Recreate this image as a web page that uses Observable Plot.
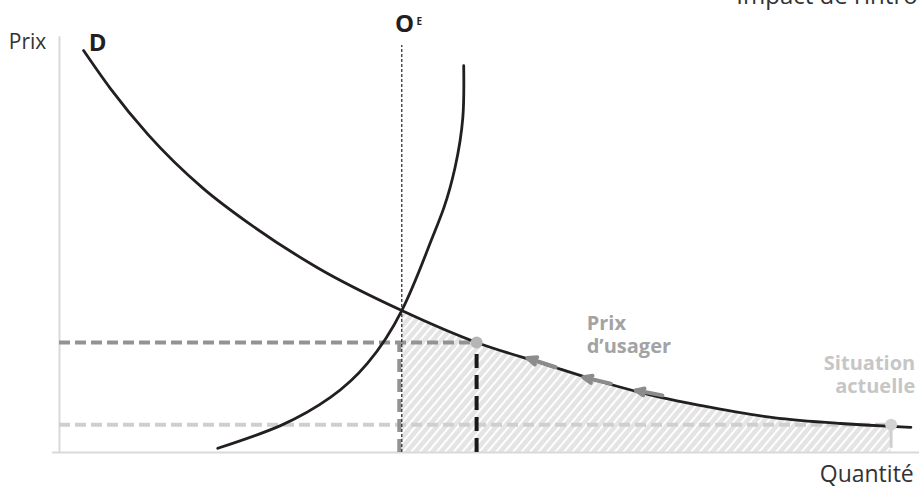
<!DOCTYPE html>
<html>
<head>
<meta charset="utf-8">
<script src="https://cdn.jsdelivr.net/npm/d3@7"></script>
<script src="https://cdn.jsdelivr.net/npm/@observablehq/plot@0.6"></script>
<style>
  html, body { margin: 0; padding: 0; background: #fff; overflow: hidden; }
  #chart { width: 919px; height: 489px; }
</style>
</head>
<body>
<div id="chart"></div>
<script>
// Demand curve D (quantity, price)
const demandQ = [2.8, 5.9, 10.3, 16.7, 22.2, 30.0, 39.8, 48.5, 56.5, 62.9, 69.9, 74.5, 83.0, 90.8, 96.7, 99.0];
const demandP = [95.7, 86.7, 75.7, 62.9, 54.3, 44.0, 33.8, 26.2, 21.0, 16.9, 13.1, 11.2, 8.3, 6.9, 6.2, 6.0];
// Supply curve O_E
const supplyQ = [18.4, 25.7, 31.5, 35.8, 39.8, 42.9, 44.7, 46.0, 46.9, 47.0];
const supplyP = [1.0, 6.4, 13.1, 21.2, 33.8, 48.8, 58.3, 67.9, 79.8, 92.1];
// Key points
const equilibrium = {q: 39.8, p: 33.8, top: 96.9};
const userPrice = {q: 48.5, p: 26.2};
const current = {q: 96.7, p: 6.6};
// Arrows along the demand curve (tail -> tip)
const arrowTailQ = [57.7, 64.1, 70.1];
const arrowTailP = [20.3, 16.4, 13.6];
const arrowTipQ = [54.4, 60.9, 67.0];
const arrowTipP = [22.5, 17.9, 14.8];
// Texts
const titleText = "Impact de l’introduction d’un prix d’usager";
const yLabel = "Prix";
const xLabel = "Quantité";
const demandLabel = "D";
const supplyLabel = "O";
const supplySub = "E";
const userLabel = "Prix\nd’usager";
const currentLabel = "Situation\nactuelle";

const demand = demandQ.map((q, i) => ({q, p: demandP[i]}));
const supply = supplyQ.map((q, i) => ({q, p: supplyP[i]}));
const hatched = demand.filter(d => d.q >= equilibrium.q && d.q <= current.q);
const arrows = arrowTailQ.map((q, i) => ({x1: q, y1: arrowTailP[i], x2: arrowTipQ[i], y2: arrowTipP[i]}));

const font = "'Open Sans', 'Noto Sans', sans-serif";

const plot = Plot.plot({
  width: 919,
  height: 489,
  marginLeft: 59,
  marginRight: 0,
  marginTop: 32,
  marginBottom: 37,
  x: {domain: [0, 100], axis: null},
  y: {domain: [0, 100], axis: null},
  style: {fontFamily: font, background: "#fff"},
  marks: [
    // hatched area
    Plot.areaY(hatched, {x: "q", y: "p", y1: 0, fill: "url(#hatch)", curve: "monotone-x"}),
    // axes
    Plot.ruleX([0], {y1: 0, y2: 99, stroke: "#d9d9d9", strokeWidth: 2}),
    Plot.ruleY([0], {x1: -0.8, x2: 100, stroke: "#d9d9d9", strokeWidth: 2}),
    // dashed guides
    Plot.ruleY([current.p], {x1: 0, x2: current.q, stroke: "#cfcfcf", strokeWidth: 4, strokeDasharray: "11,5"}),
    Plot.ruleY([userPrice.p], {x1: 0, x2: userPrice.q, stroke: "#939393", strokeWidth: 4, strokeDasharray: "11,5"}),
    Plot.ruleX([equilibrium.q], {y1: 0, y2: userPrice.p, dx: -2.5, stroke: "#939393", strokeWidth: 4, strokeDasharray: "13,7"}),
    Plot.ruleX([userPrice.q], {y1: 0, y2: userPrice.p, stroke: "#1a1a1a", strokeWidth: 4, strokeDasharray: "14,7"}),
    Plot.ruleX([equilibrium.q], {y1: 0, y2: equilibrium.top, stroke: "#222", strokeWidth: 1.2, strokeDasharray: "3,2"}),
    Plot.ruleX([current.q], {y1: 1, y2: current.p, stroke: "#d0d0d0", strokeWidth: 3}),
    // curves
    Plot.line(supply, {x: "q", y: "p", stroke: "#231f20", strokeWidth: 2.8, curve: "natural"}),
    Plot.line(demand, {x: "q", y: "p", stroke: "#231f20", strokeWidth: 2.8, curve: "monotone-x"}),
    // arrows
    Plot.arrow(arrows, {x1: "x1", y1: "y1", x2: "x2", y2: "y2", stroke: "#8c8c8c", strokeWidth: 4, headLength: 12, headAngle: 45}),
    // points
    Plot.dot([userPrice], {x: "q", y: "p", r: 6, fill: "#b5b5b5"}),
    Plot.dot([current], {x: "q", y: "p", r: 6, fill: "#d3d3d3"}),
    // texts
    Plot.text([titleText], {x: 78.7, y: 106.9, text: d => d, textAnchor: "start", lineAnchor: "bottom", fontSize: 24, fill: "#333"}),
    Plot.text([yLabel], {x: -5.9, y: 96.0, text: d => d, textAnchor: "start", lineAnchor: "bottom", fontSize: 21, fill: "#333"}),
    Plot.text([xLabel], {x: 88.4, y: -7.1, text: d => d, textAnchor: "start", lineAnchor: "bottom", fontSize: 23, fill: "#333"}),
    Plot.text([demandLabel], {x: 3.4, y: 95.5, text: d => d, textAnchor: "start", lineAnchor: "bottom", fontSize: 24, fontWeight: "bold", fill: "#231f20"}),
    Plot.text([supplyLabel], {x: 39.0, y: 100.2, text: d => d, textAnchor: "start", lineAnchor: "bottom", fontSize: 24, fontWeight: "bold", fill: "#231f20"}),
    Plot.text([supplySub], {x: 41.5, y: 101.7, text: d => d, textAnchor: "start", lineAnchor: "bottom", fontSize: 10, fontWeight: "bold", fill: "#231f20"}),
    Plot.text([userLabel], {x: 61.3, y: 23.6, text: d => d, textAnchor: "start", lineAnchor: "bottom", lineHeight: 1.17, fontSize: 20, fontWeight: "bold", fill: "#a3a3a3"}),
    Plot.text([currentLabel], {x: 99.5, y: 14.1, text: d => d, textAnchor: "end", lineAnchor: "bottom", lineHeight: 1.17, fontSize: 20, fontWeight: "bold", fill: "#c6c6c6"})
  ]
});

// hatch pattern definition
const defs = d3.select(plot).insert("defs", ":first-child");
const pat = defs.append("pattern")
  .attr("id", "hatch")
  .attr("patternUnits", "userSpaceOnUse")
  .attr("width", 6.5)
  .attr("height", 6.5)
  .attr("patternTransform", "rotate(40)");
pat.append("rect").attr("width", 6.5).attr("height", 6.5).attr("fill", "#e4e4e4");
pat.append("line").attr("x1", 1).attr("y1", 0).attr("x2", 1).attr("y2", 6.5)
  .attr("stroke", "#fff").attr("stroke-width", 2);

document.getElementById("chart").appendChild(plot);
</script>
</body>
</html>
